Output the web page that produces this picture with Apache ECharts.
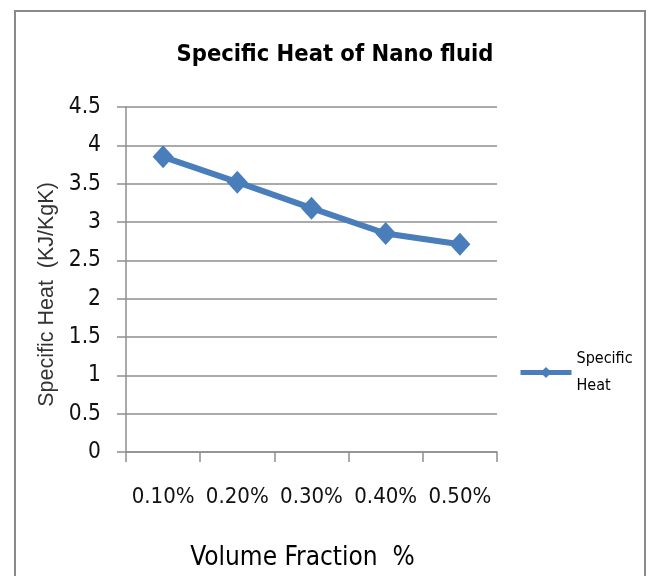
<!DOCTYPE html>
<html>
<head>
<meta charset="utf-8">
<script src="https://cdn.jsdelivr.net/npm/echarts@6/dist/echarts.min.js"></script>
<style>
html,body{margin:0;padding:0;background:#fff;}
#chart{width:649px;height:576px;}
</style>
</head>
<body>
<div id="chart"></div>
<script>
var categories = ['0.10%', '0.20%', '0.30%', '0.40%', '0.50%'];
var specificHeat = [3.85, 3.52, 3.18, 2.85, 2.71];
var seriesName = 'Specific Heat';
var titleText = 'Specific Heat of Nano fluid';
var xAxisName = 'Volume Fraction  %';
var yAxisName = 'Specific Heat  (KJ/KgK)';

var narrow = '"DejaVu Sans Condensed", "Liberation Sans Narrow", "Arial Narrow", sans-serif';
var chart = echarts.init(document.getElementById('chart'), null, {renderer: 'canvas'});
chart.setOption({
  backgroundColor: '#ffffff',
  animation: false,
  graphic: [{
    type: 'rect',
    shape: {x: 15, y: 11, width: 630, height: 600},
    style: {fill: 'none', stroke: '#8a8a8a', lineWidth: 2},
    silent: true
  }],
  title: {
    text: titleText,
    left: 330, top: 38, textAlign: 'center',
    textStyle: {fontFamily: narrow, fontWeight: 'bold', fontSize: 23.5, color: '#000'}
  },
  legend: {
    data: [seriesName],
    left: 518, top: 332, padding: 0,
    itemWidth: 51, itemHeight: 14,
    lineStyle: {width: 5},
    formatter: function () { return 'Specific\nHeat'; },
    textStyle: {fontFamily: narrow, fontSize: 16, color: '#000', lineHeight: 27, padding: [27, 0, 0, 0]}
  },
  grid: {left: 126, top: 107, width: 371, height: 347, containLabel: false},
  xAxis: {
    type: 'category',
    data: categories,
    boundaryGap: true,
    axisLine: {show: true, lineStyle: {color: '#8e8e8e', width: 1.5}},
    axisTick: {show: true, length: 10, alignWithLabel: false, lineStyle: {color: '#8e8e8e', width: 1.5}},
    axisLabel: {fontFamily: narrow, fontSize: 22, color: '#111', margin: 34, interval: 0},
    name: xAxisName,
    nameLocation: 'middle',
    nameGap: 93,
    nameTextStyle: {fontFamily: narrow, fontSize: 26, color: '#000', padding: [0, 18, 0, 0]}
  },
  yAxis: {
    type: 'value',
    min: 0, max: 4.5, interval: 0.5,
    axisLine: {show: true, lineStyle: {color: '#8e8e8e', width: 1.5}},
    axisTick: {show: true, length: 9, inside: false, lineStyle: {color: '#8e8e8e', width: 1.5}},
    splitLine: {show: true, lineStyle: {color: '#8e8e8e', width: 1.5}},
    axisLabel: {fontFamily: narrow, fontSize: 22.5, color: '#111', margin: 25},
    name: yAxisName,
    nameLocation: 'middle',
    nameGap: 64,
    nameRotate: 90,
    nameTextStyle: {fontFamily: '"Liberation Sans", Arial, sans-serif', fontSize: 21.5, color: '#333', padding: [0, 30, 0, 0]}
  },
  series: [{
    name: seriesName,
    type: 'line',
    data: specificHeat,
    symbol: 'diamond',
    symbolSize: [21, 23],
    color: '#4A7EBB',
    lineStyle: {color: '#4A7EBB', width: 6},
    itemStyle: {color: '#4A7EBB'}
  }]
});
</script>
</body>
</html>
